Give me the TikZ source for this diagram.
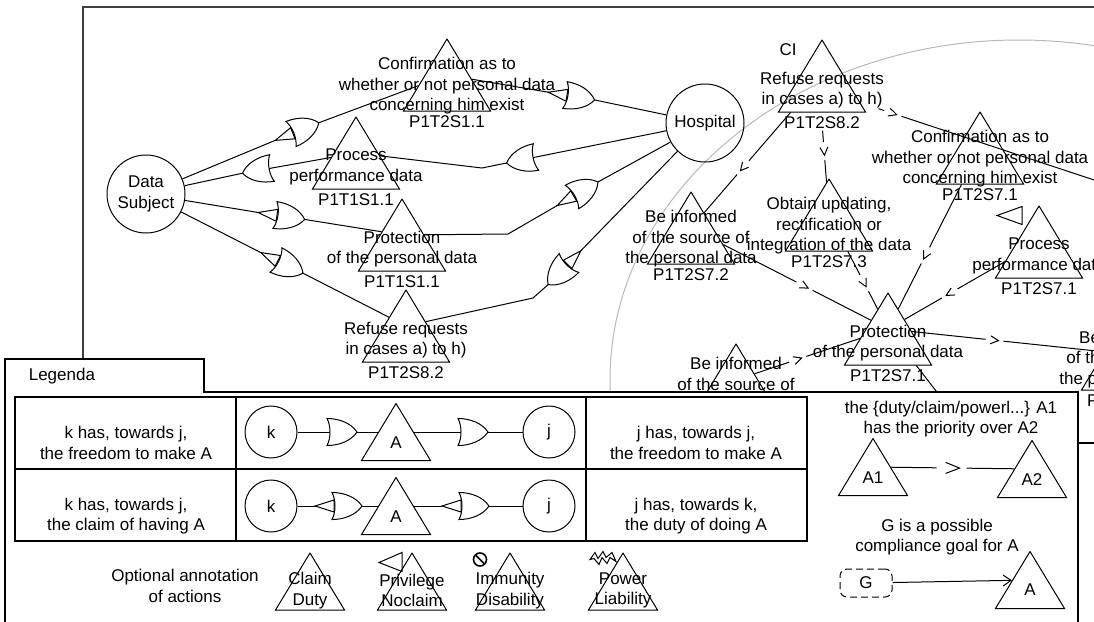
\documentclass[tikz,border=0pt]{standalone}
\usepackage{fontspec}
\setmainfont{Liberation Sans}
\usetikzlibrary{arrows.meta,positioning,shapes.geometric,decorations.markings}

\tikzset{
  every node/.style={font=\fontsize{17}{20.5}\selectfont},
  act/.style={draw,trapezium,trapezium left angle=58.87,trapezium right angle=58.87,
    inner xsep=0.01pt,inner ysep=36pt,minimum width=0pt,minimum height=0pt},
  smallact/.style={act,trapezium left angle=58.82,trapezium right angle=58.82,inner ysep=28.5pt},
  txt/.style={align=center,inner sep=0},
  two/.style={txt,yshift=-14},
  three/.style={txt,yshift=-11},
  idl/.style={inner sep=1pt,yshift=-3},
  agent/.style={draw,circle,minimum size=78,inner sep=0,align=center},
  smallagent/.style={agent,minimum size=52},
  gate/.pic={\begin{scope}[rotate=#1]
    \filldraw[fill=white](0,13.5)..controls(12,13.5)and(24,9)..(30,0)..controls(24,-9)and(12,-13.5)..(0,-13.5)..controls(4,-6)and(4,6)..(0,13.5)--cycle;
    \coordinate(-in)at(3,0);\coordinate(-out)at(30,0);
  \end{scope}},
  privgate/.pic={\begin{scope}[rotate=#1]
    \filldraw[fill=white](0,13.5)..controls(12,13.5)and(24,9)..(30,0)..controls(24,-9)and(12,-13.5)..(0,-13.5)..controls(4,-6)and(4,6)..(0,13.5)--cycle;
    \draw(2,6)--(-17,0)--(2,-6)--cycle;
    \coordinate(-in)at(-17,0);\coordinate(-out)at(30,0);
  \end{scope}},
  prio/.style={postaction={decorate},decoration={markings,mark=at position #1 with {
    \fill[white](-9pt,-3pt)rectangle(9pt,3pt);\draw(-4pt,4pt)--(4pt,0pt)--(-4pt,-4pt);}}},
  prio/.default=0.5,
  bigprio/.style={postaction={decorate},decoration={markings,mark=at position #1 with {
    \fill[white](-16pt,-3pt)rectangle(14pt,3pt);\draw(-7pt,5.5pt)--(7pt,0pt)--(-7pt,-5.5pt);}}},
  bigprio/.default=0.5,
}

\begin{document}
\begin{tikzpicture}[x=1pt,y=-1pt,line width=1pt,>=Latex]
\useasboundingbox(0,0)rectangle(1094,621);
% frame and CI region
\draw[line width=1.2pt,black!75](83,7)rectangle(1300,800);
\draw[gray!55](1019,380)ellipse[x radius=409pt,y radius=340pt];

% agents
\node[agent](ds)at(146,194){Data\\Subject};
\node[agent](hosp)at(705,123){Hospital};

% actions, left part
\node[act,label={[three]center:{Confirmation as to\\whether or not personal data\\concerning him exist}},label={[idl]below:P1T2S1.1}](conf1)at(447,75){};
\node[act,label={[two]center:{Process\\performance data}},label={[idl]below:P1T1S1.1}](proc1)at(356,153){};
\node[act,label={[two]center:{Protection\\of the personal data}},label={[idl]below:P1T1S1.1}](prot1)at(402,235){};
\node[act,label={[two]center:{Refuse requests\\in cases a) to h)}},label={[idl]below:P1T2S8.2}](ref1)at(406,326){};

% actions, CI part
\node[act,label={[two,name=citxt]center:{Refuse requests\\in cases a) to h)}},label={[idl,name=ciid]below:P1T2S8.2}](ci)at(822,76){};
\node(citag)at(788,50){CI};
\node[act,label={[three]center:{Confirmation as to\\whether or not personal data\\concerning him exist}},label={[idl]below:P1T2S7.1}](conf2)at(980,148){};
\node[act,label={[three]center:{Obtain updating,\\rectification or\\integration of the data}},label={[idl]below:P1T2S7.3}](obt)at(829,215){};
\node[act,label={[three]center:{Be informed\\of the source of\\the personal data}},label={[idl]below:P1T2S7.2}](beinf)at(691,228){};
\node[act,label={[two]center:{Process\\performance data}},label={[idl]below:P1T2S7.1}](proc2)at(1039,242){};
\node[act,label={[two]center:{Protection\\of the personal data}},label={[idl]below:P1T2S7.1}](prot2)at(888,329){};
\node[act,label={[txt,yshift=6]center:{Be informed\\of the source of}}](lbeinf)at(736,380){};
\node[act,label={[txt,yshift=-5.5]center:{Be informed\\of the source of\\the personal data}},label={[idl]below:P1T2S7.2}](rbeinf)at(1125,354){};
\draw([shift={(-42,10)}]proc2.north)--([shift={(-17,1)}]proc2.north)--([shift={(-17,19)}]proc2.north)--cycle;

% freedoms and claims
\pic(g1)at(291,134){privgate=22};
\pic(g2)at(272,168){gate=190};
\pic(g3)at(275,215){privgate=-8.5};
\pic(g4)at(276,260){privgate=-26};
\pic(h1)at(565,95){privgate=-9.5};
\pic(h2)at(536,157){gate=191.5};
\pic(h3)at(572,197){privgate=30};
\pic(h4)at(569,263){privgate=226};
\coordinate(b2)at(482,168);
\coordinate(b3)at(508,234);
\coordinate(b4)at(533,298);
\draw(ds)--(g1-in);\draw(g1-out)--(conf1);
\draw(proc1)--(g2-in);\draw(g2-out)--(ds);
\draw(ds)--(g3-in);\draw(g3-out)--(prot1);
\draw(ds)--(g4-in);\draw(g4-out)--(ref1);
\draw(conf1)--(h1-in);\draw(h1-out)--(hosp);
\draw(hosp)--(h2-in);\draw(h2-out)--(b2)--(proc1);
\draw(prot1)--(b3)--(h3-in);\draw(h3-out)--(hosp);
\draw(hosp)--(h4-in);\draw(h4-out)--(b4)--(ref1);

% priorities
\coordinate(cifar)at(1200,215);
\coordinate(protfar)at(988,458);
\draw[prio=0.045](citxt)--(cifar);
\draw[prio=0.4](ciid)--(obt);
\draw[prio=0.55](ci)--(beinf);
\draw[prio=0.55](beinf)--(prot2);
\draw[prio=0.55](obt)--(prot2);
\draw[prio=0.57](conf2)--(prot2);
\draw[prio=0.55](proc2)--(prot2);
\draw[prio=0.43](prot2)--(rbeinf);
\draw[prio=0.41](lbeinf)--(prot2);
\draw(prot2)--(protfar);

% legend
\filldraw[fill=white,line width=1.2pt](5,800)--(5,359)--(204,359)--(204,392)--(1078,392)--(1078,800);
\draw[line width=1.2pt](1078,443)--(1100,443);
\node[anchor=west](legtitle)at(25,376){Legenda};
\draw[line width=1.2pt](15,397)rectangle(807,541);
\draw[line width=1.2pt](15,469)--(807,469)(236,397)--(236,541)(586,397)--(586,541);
\node[txt](t11)at(126,443){k has, towards j,\\the freedom to make A};
\node[txt](t21)at(126,516){k has, towards j,\\the claim of having A};
\node[txt](t13)at(696,443){j has, towards j,\\the freedom to make A};
\node[txt](t23)at(696,516){j has, towards k,\\the duty of doing A};

\node[smallagent](k1)at(271,432){k};
\node[smallagent](j1)at(549,432){j};
\node[smallact,label={[txt,yshift=-11]center:A}](la1)at(396,432){};
\pic(lg1)at(327,432){gate=0};
\pic(lg2)at(458,432){gate=0};
\draw(k1)--(lg1-in);\draw(lg1-out)--(la1);
\draw(la1)--(lg2-in);\draw(lg2-out)--(j1);

\node[smallagent](k2)at(271,506){k};
\node[smallagent](j2)at(549,506){j};
\node[smallact,label={[txt,yshift=-11]center:A}](la2)at(396,506){};
\pic(lp1)at(332,506){privgate=0};
\pic(lp2)at(459,506){privgate=0};
\draw(k2)--(lp1-in);\draw(lp1-out)--(la2);
\draw(la2)--(lp2-in);\draw(lp2-out)--(j2);

\node[txt](prinote)at(951,419){the \{duty/claim/powerl...\} A1\\has the priority over A2};
\node[smallact,label={[txt,yshift=-11]center:A1}](la3)at(873,467){};
\node[smallact,label={[txt,yshift=-11]center:A2}](la4)at(1032,469){};
\draw[bigprio](la3)--(la4);
\node[txt](goalnote)at(937,537){G is a possible\\compliance goal for A};
\node[draw,dash pattern=on 7pt off 4pt,rounded corners=7,minimum width=52,minimum height=28,inner sep=0](goal)at(866,583){G};
\node[smallact,label={[txt,yshift=-10]center:A}](la5)at(1030,580){};
\draw[-{Straight Barb[length=8pt,width=11pt]}](goal)--(la5);

% optional annotations
\node[txt](annot)at(185,586){Optional annotation\\of actions};
\foreach \x/\lab/\n in {310/{Claim\\Duty}/an1,412/{Privilege\\Noclaim}/an2,510/{Immunity\\Disability}/an3,623/{Power\\Liability}/an4}{
\node[smallact,label={[txt,yshift=-9]center:{\lab}}](\n)at(\x,581.5){};}
\draw([shift={(-33,10)}]an2.north)--([shift={(-10,0)}]an2.north)--([shift={(-10,19)}]an2.north)--cycle;
\draw[line width=1.6pt]([shift={(-30,7)}]an3.north)circle[radius=6.5pt];
\draw[line width=1.6pt]([shift={(-34.6,2.4)}]an3.north)--([shift={(-25.4,11.6)}]an3.north);
\draw([shift={(-33,7)}]an4.north)--([shift={(-28,0)}]an4.north)--([shift={(-25,6)}]an4.north)--([shift={(-20,-1)}]an4.north)--([shift={(-17,5)}]an4.north)--([shift={(-11,0)}]an4.north)
  --([shift={(-7,9)}]an4.north)--([shift={(-13,5)}]an4.north)--([shift={(-16,11)}]an4.north)--([shift={(-21,5)}]an4.north)--([shift={(-24,12)}]an4.north)--([shift={(-29,6)}]an4.north)--cycle;
\end{tikzpicture}
\end{document}
